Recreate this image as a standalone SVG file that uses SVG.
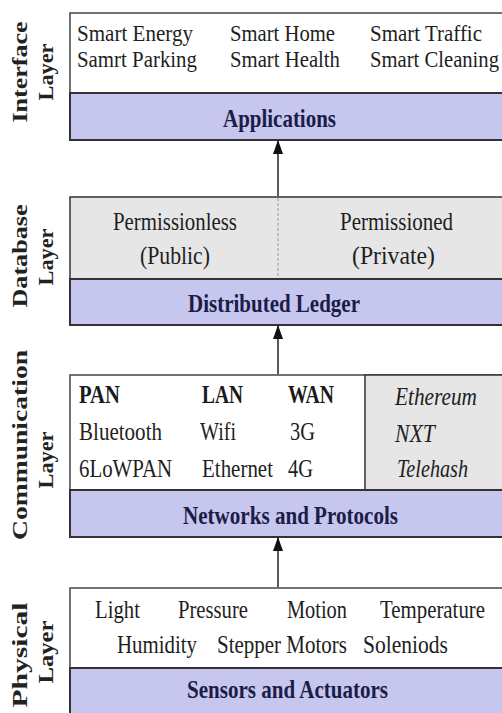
<svg xmlns="http://www.w3.org/2000/svg" width="502" height="713" viewBox="0 0 502 713">
<defs>
<style>
.t{font-family:"Liberation Serif","Times New Roman",serif;font-size:26px;fill:#1e1e1e}
.ts{font-family:"Liberation Serif","Times New Roman",serif;font-size:24px;fill:#1e1e1e}
.b{font-family:"Liberation Serif","Times New Roman",serif;font-size:25px;font-weight:bold;fill:#1c1c48}
.bk{font-family:"Liberation Serif","Times New Roman",serif;font-size:25px;font-weight:bold;fill:#1a1a1a}
.i{font-family:"Liberation Serif","Times New Roman",serif;font-size:26px;font-style:italic;fill:#1e1e1e}
.lab{font-family:"Liberation Serif","Times New Roman",serif;font-size:26px;font-weight:bold;fill:#222;text-anchor:middle}
.white{fill:#ffffff;stroke:#444;stroke-width:1.5}
.grey{fill:#e6e6e6;stroke:#333;stroke-width:1.5}
.band{fill:#c6c6ee;stroke:#333;stroke-width:2}
.conn{stroke:#222;stroke-width:1.5;fill:none}
</style>
<marker id="arr" markerWidth="14" markerHeight="10" refX="13" refY="5" orient="auto" markerUnits="userSpaceOnUse" viewBox="0 0 14 10">
<path d="M0,0 L14,5 L0,10 Z" fill="#111"/>
</marker>
</defs>
<rect width="502" height="713" fill="#ffffff"/>

<g id="interface-layer">
<text class="lab" transform="translate(27,72) scale(0.84,1) rotate(-90)" textLength="101" lengthAdjust="spacingAndGlyphs">Interface</text>
<text class="lab" transform="translate(53,72) scale(0.84,1) rotate(-90)" textLength="57" lengthAdjust="spacingAndGlyphs">Layer</text>
<rect class="white" x="70" y="13" width="433" height="80"/>
<rect class="band" x="70" y="93" width="433" height="47"/>
<text class="ts" x="77" y="41" textLength="116" lengthAdjust="spacingAndGlyphs">Smart Energy</text>
<text class="ts" x="230" y="41" textLength="105" lengthAdjust="spacingAndGlyphs">Smart Home</text>
<text class="ts" x="370" y="41" textLength="112" lengthAdjust="spacingAndGlyphs">Smart Traffic</text>
<text class="ts" x="77" y="67" textLength="120" lengthAdjust="spacingAndGlyphs">Samrt Parking</text>
<text class="ts" x="230" y="67" textLength="110" lengthAdjust="spacingAndGlyphs">Smart Health</text>
<text class="ts" x="370" y="67" textLength="129" lengthAdjust="spacingAndGlyphs">Smart Cleaning</text>
<text class="b" x="223" y="127" textLength="113" lengthAdjust="spacingAndGlyphs">Applications</text>
</g>

<g id="database-layer">
<text class="lab" transform="translate(27,256) scale(0.84,1) rotate(-90)" textLength="103" lengthAdjust="spacingAndGlyphs">Database</text>
<text class="lab" transform="translate(53,257) scale(0.84,1) rotate(-90)" textLength="57" lengthAdjust="spacingAndGlyphs">Layer</text>
<rect class="grey" x="70" y="197" width="433" height="82" stroke-width="3"/>
<line x1="278" y1="198" x2="278" y2="279" stroke="#999" stroke-width="1" stroke-dasharray="3,2"/>
<rect class="band" x="70" y="279" width="433" height="46"/>
<text class="t" x="113" y="230" textLength="124" lengthAdjust="spacingAndGlyphs">Permissionless</text>
<text class="t" x="140" y="264" textLength="70" lengthAdjust="spacingAndGlyphs">(Public)</text>
<text class="t" x="340" y="230" textLength="113" lengthAdjust="spacingAndGlyphs">Permissioned</text>
<text class="t" x="352" y="264" textLength="83" lengthAdjust="spacingAndGlyphs">(Private)</text>
<text class="b" x="188" y="312" textLength="172" lengthAdjust="spacingAndGlyphs">Distributed Ledger</text>
</g>

<g id="communication-layer">
<text class="lab" transform="translate(27,445) scale(0.84,1) rotate(-90)" textLength="190" lengthAdjust="spacingAndGlyphs">Communication</text>
<text class="lab" transform="translate(53,460) scale(0.84,1) rotate(-90)" textLength="57" lengthAdjust="spacingAndGlyphs">Layer</text>
<rect class="white" x="70" y="375" width="433" height="115"/>
<rect class="grey" x="365" y="375" width="138" height="115" stroke-width="2"/>
<rect class="band" x="70" y="490" width="433" height="47"/>
<text class="bk" x="79" y="403" textLength="41" lengthAdjust="spacingAndGlyphs">PAN</text>
<text class="bk" x="202" y="403" textLength="41" lengthAdjust="spacingAndGlyphs">LAN</text>
<text class="bk" x="288" y="403" textLength="46" lengthAdjust="spacingAndGlyphs">WAN</text>
<text class="t" x="79" y="440" textLength="83" lengthAdjust="spacingAndGlyphs">Bluetooth</text>
<text class="t" x="200" y="440" textLength="36" lengthAdjust="spacingAndGlyphs">Wifi</text>
<text class="t" x="290" y="440" textLength="25" lengthAdjust="spacingAndGlyphs">3G</text>
<text class="t" x="79" y="477" textLength="93" lengthAdjust="spacingAndGlyphs">6LoWPAN</text>
<text class="t" x="202" y="477" textLength="71" lengthAdjust="spacingAndGlyphs">Ethernet</text>
<text class="t" x="288" y="477" textLength="25" lengthAdjust="spacingAndGlyphs">4G</text>
<text class="i" x="395" y="405" textLength="82" lengthAdjust="spacingAndGlyphs">Ethereum</text>
<text class="i" x="395" y="442" textLength="40" lengthAdjust="spacingAndGlyphs">NXT</text>
<text class="i" x="397" y="477" textLength="71" lengthAdjust="spacingAndGlyphs">Telehash</text>
<text class="b" x="183" y="524" textLength="215" lengthAdjust="spacingAndGlyphs">Networks and Protocols</text>
</g>

<g id="physical-layer">
<text class="lab" transform="translate(27,655) scale(0.84,1) rotate(-90)" textLength="105" lengthAdjust="spacingAndGlyphs">Physical</text>
<text class="lab" transform="translate(53,652) scale(0.84,1) rotate(-90)" textLength="63" lengthAdjust="spacingAndGlyphs">Layer</text>
<rect class="white" x="70" y="588" width="433" height="80"/>
<rect class="band" x="70" y="668" width="433" height="60"/>
<text class="t" x="95" y="618" textLength="45" lengthAdjust="spacingAndGlyphs">Light</text>
<text class="t" x="178" y="618" textLength="70" lengthAdjust="spacingAndGlyphs">Pressure</text>
<text class="t" x="287" y="618" textLength="60" lengthAdjust="spacingAndGlyphs">Motion</text>
<text class="t" x="380" y="618" textLength="105" lengthAdjust="spacingAndGlyphs">Temperature</text>
<text class="t" x="117" y="653" textLength="80" lengthAdjust="spacingAndGlyphs">Humidity</text>
<text class="t" x="217" y="653" textLength="130" lengthAdjust="spacingAndGlyphs">Stepper Motors</text>
<text class="t" x="363" y="653" textLength="85" lengthAdjust="spacingAndGlyphs">Soleniods</text>
<text class="b" x="187" y="698" textLength="201" lengthAdjust="spacingAndGlyphs">Sensors and Actuators</text>
</g>

<g id="connectors">
<line class="conn" x1="278" y1="196" x2="278" y2="141" marker-end="url(#arr)"/>
<line class="conn" x1="278" y1="374" x2="278" y2="326" marker-end="url(#arr)"/>
<line class="conn" x1="278" y1="587" x2="278" y2="538" marker-end="url(#arr)"/>
</g>
</svg>
